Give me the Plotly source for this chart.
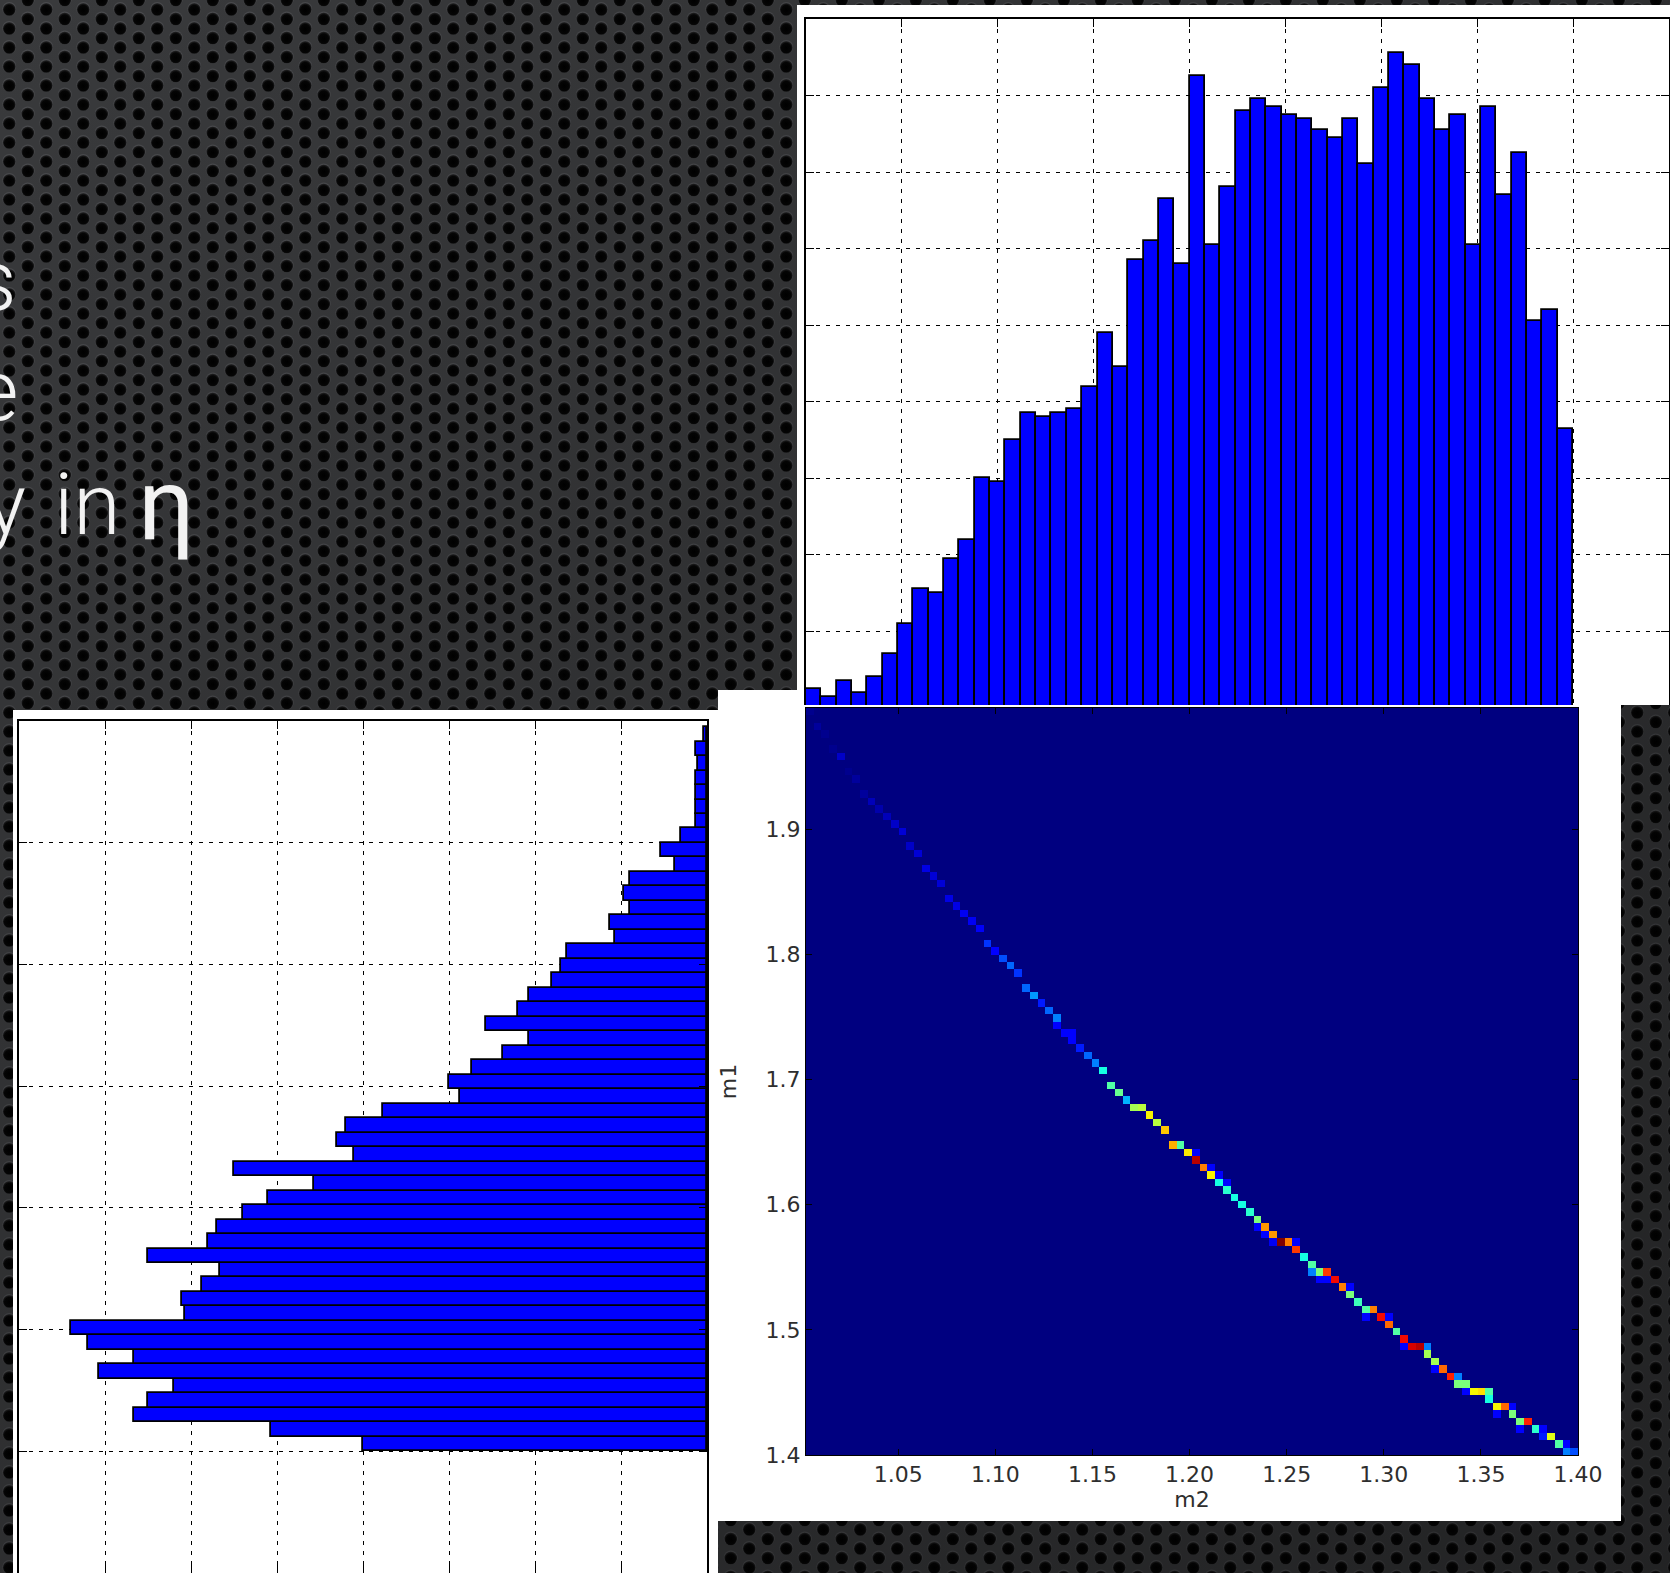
import base64
import numpy as np
import plotly.graph_objects as go

W, H = 1670, 1573  # page size in px


def px(x):
    return x / W


def py(y):
    return 1 - y / H


# ---------------- data ----------------
# m2 histogram, 50 bins between 1.00 and 1.40
m2_lo, m2_hi, m2_nbins = 1.0, 1.4, 50
m2_counts = [5, 3, 7, 4, 8, 14, 22, 31, 30, 39,
             44, 60, 59, 70, 77, 76, 77, 78, 84, 98,
             89, 117, 122, 133, 116, 165, 121, 136, 156, 159,
             157, 155, 154, 151, 149, 154, 142, 162, 171, 168,
             159, 151, 155, 121, 157, 134, 145, 101, 104, 73]

# m1 histogram, 50 bins between 1.400 and 1.995 (drawn horizontally)
m1_lo, m1_hi, m1_nbins = 1.4, 1.995, 50
m1_counts = [120, 152, 200, 195, 186, 212, 200, 216, 222, 182,
             183, 176, 170, 195, 174, 171, 162, 153, 137, 165,
             123, 129, 126, 113, 86, 90, 82, 71, 62, 77,
             66, 62, 54, 51, 49, 32, 34, 27, 29, 27,
             11, 16, 9, 4, 4, 4, 4, 3, 4, 1]

# 2D histogram m1 vs m2 (100 x 100 bins): occupied m1 row for each m2 column
ridge_row = [99, 97, 96, 94, 93, 91, 90, 88, 87, 86,
             85, 84, 83, 81, 80, 78, 77, 76, 74, 73,
             72, 71, 70, 68, 67, 66, 65, 64, 62, 61,
             60, 59, 58, 56, 55, 54, 53, 52, 51, 49,
             48, 47, 46, 46, 45, 44, 43, 41, 41, 40,
             39, 38, 37, 36, 35, 34, 33, 32, 31, 30,
             29, 28, 28, 27, 26, 25, 24, 24, 23, 22,
             21, 20, 19, 19, 18, 17, 16, 15, 14, 14,
             13, 12, 11, 10, 9, 9, 8, 8, 7, 6,
             6, 5, 4, 4, 3, 2, 2, 1, 0, 0]
ridge_count = [1, 2, 1, 1, 5, 1, 2, 2, 4, 3,
               4, 5, 6, 5, 6, 7, 6, 6, 7, 7,
               8, 8, 9, 14, 10, 16, 18, 14, 18, 22,
               12, 18, 20, 10, 10, 12, 18, 20, 30, 36,
               38, 24, 44, 46, 52, 46, 56, 58, 36, 53,
               76, 62, 52, 30, 32, 30, 30, 32, 40, 60,
               60, 80, 62, 68, 30, 36, 40, 68, 72, 62,
               40, 34, 36, 62, 72, 64, 36, 72, 74, 76,
               44, 44, 64, 70, 40, 40, 52, 54, 30, 52,
               64, 40, 40, 70, 32, 12, 50, 36, 20, 16]
# extra cells next to the ridge: (m2 column, row offset, count)
side_cells = [(32, -1, 10), (34, 1, 10), (50, 1, 10), (52, 1, 10), (53, 1, 10),
              (54, 1, 10), (58, -1, 10), (59, -1, 10), (60, -1, 8), (63, 1, 10),
              (65, -1, 20), (66, -1, 10), (67, -1, 10), (70, 1, 10), (72, -1, 10),
              (75, 1, 10), (77, -1, 10), (80, 1, 20), (81, -1, 10), (84, 1, 20),
              (85, -1, 10), (88, 1, 36), (89, -1, 10), (91, 1, 10), (92, -1, 10),
              (95, 1, 10), (98, 1, 10)]
h2_x_lo, h2_x_hi = 1.0025, 1.40
h2_y_lo, h2_y_hi = 1.40, 1.997
h2_n = 100

heat_xticks = [1.05, 1.10, 1.15, 1.20, 1.25, 1.30, 1.35, 1.40]
heat_yticks = [1.4, 1.5, 1.6, 1.7, 1.8, 1.9]

# ---------------- derived arrays ----------------
m2_w = (m2_hi - m2_lo) / m2_nbins
m2_centers = [m2_lo + (k + 0.5) * m2_w for k in range(m2_nbins)]
m1_w = (m1_hi - m1_lo) / m1_nbins
m1_centers = [m1_lo + (k + 0.5) * m1_w for k in range(m1_nbins)]

z = np.zeros((h2_n, h2_n))
for i, (j, c) in enumerate(zip(ridge_row, ridge_count)):
    z[j, i] = c
for i, dj, c in side_cells:
    z[ridge_row[i] + dj, i] = c
x_edges = np.linspace(h2_x_lo, h2_x_hi, h2_n + 1)
y_edges = np.linspace(h2_y_lo, h2_y_hi, h2_n + 1)


# matplotlib "jet" colour map
def jet_rgb(t):
    r = np.interp(t, [0, 0.35, 0.66, 0.89, 1], [0, 0, 1, 1, 0.5])
    g = np.interp(t, [0, 0.125, 0.375, 0.64, 0.91, 1], [0, 0, 1, 1, 0, 0])
    b = np.interp(t, [0, 0.11, 0.34, 0.65, 1], [0.5, 1, 1, 0, 0])
    return f"rgb({int(round(r * 255))},{int(round(g * 255))},{int(round(b * 255))})"


jet = [[float(s), jet_rgb(s)] for s in np.linspace(0, 1, 41)]

# ---------------- perforated-metal backdrop ----------------
tile_w, tile_h = 37, 19
svg = f"""<svg xmlns='http://www.w3.org/2000/svg' width='{W}' height='{H}'>
<defs>
<radialGradient id='hole' cx='0.5' cy='0.55' r='0.5'>
<stop offset='0' stop-color='#000'/><stop offset='0.75' stop-color='#050505'/>
<stop offset='1' stop-color='#1c1c1d'/></radialGradient>
<pattern id='p' width='{tile_w}' height='{tile_h}' patternUnits='userSpaceOnUse'>
<rect width='{tile_w}' height='{tile_h}' fill='#393a3c'/>
<circle cx='9.25' cy='8.9' r='6.9' fill='#4a4b4e'/>
<circle cx='27.75' cy='-0.6' r='6.9' fill='#4a4b4e'/>
<circle cx='27.75' cy='18.4' r='6.9' fill='#4a4b4e'/>
<circle cx='9.25' cy='9.5' r='6.3' fill='url(#hole)'/>
<circle cx='27.75' cy='0' r='6.3' fill='url(#hole)'/>
<circle cx='27.75' cy='19' r='6.3' fill='url(#hole)'/>
</pattern>
<linearGradient id='shade' x1='0' y1='0' x2='1' y2='1'>
<stop offset='0' stop-color='#000' stop-opacity='0'/>
<stop offset='1' stop-color='#000' stop-opacity='0.4'/></linearGradient>
</defs>
<rect width='{W}' height='{H}' fill='url(#p)'/>
<rect width='{W}' height='{H}' fill='url(#shade)'/>
</svg>"""
bg_uri = "data:image/svg+xml;base64," + base64.b64encode(svg.encode()).decode()

# ---------------- figure ----------------
fig = go.Figure()

bar_style = dict(color="#0000ff", line=dict(color="black", width=1.8))

fig.add_trace(go.Bar(x=m2_centers, y=m2_counts, width=m2_w, marker=bar_style,
                     xaxis="x", yaxis="y", hoverinfo="skip", showlegend=False))
fig.add_trace(go.Bar(y=m1_centers, x=m1_counts, width=m1_w, orientation="h",
                     marker=bar_style, xaxis="x2", yaxis="y2",
                     hoverinfo="skip", showlegend=False))
fig.add_trace(go.Heatmap(z=z, x=x_edges, y=y_edges, colorscale=jet, zmin=0, zmax=80,
                         zsmooth=False, showscale=False, hoverinfo="skip",
                         xaxis="x3", yaxis="y3"))

hist_axis = dict(showline=True, linecolor="black", linewidth=1.6,
                 ticks="inside", ticklen=8, tickwidth=1.2, tickcolor="black",
                 showticklabels=False, showgrid=True, gridcolor="black",
                 gridwidth=1, griddash="4px,6px", zeroline=False,
                 layer="above traces", automargin=False, fixedrange=True)

label_font = dict(family="DejaVu Sans", size=22, color="#2e2e2e")
heat_axis = dict(showline=True, linecolor="black", linewidth=1, mirror="ticks",
                 ticks="inside", ticklen=6, tickcolor="black", showgrid=False,
                 zeroline=False, tickfont=label_font, automargin=False,
                 fixedrange=True)

fig.update_layout(
    width=W, height=H,
    margin=dict(l=0, r=0, t=0, b=0),
    paper_bgcolor="#2a2a2b",
    plot_bgcolor="white",
    bargap=0,
    showlegend=False,
    xaxis=dict(hist_axis, domain=[px(806), px(1669)], range=[1.0, 1.45],
               tick0=1.0, dtick=0.05, side="top", mirror=False, anchor="y"),
    yaxis=dict(hist_axis, domain=[py(705), py(19)], range=[0.8, 180],
               tick0=0, dtick=20, mirror="ticks", anchor="x"),
    xaxis2=dict(hist_axis, domain=[px(19), px(707)], range=[240, 0],
                tick0=0, dtick=30, mirror="ticks", anchor="y2"),
    yaxis2=dict(hist_axis, domain=[0, py(721)], range=[1.3, 2.0],
                tick0=1.3, dtick=0.1, mirror="ticks", anchor="x2"),
    xaxis3=dict(heat_axis, domain=[px(806), px(1578)], range=[h2_x_lo, h2_x_hi],
                tickvals=heat_xticks, tickformat=".2f", anchor="y3",
                title=dict(text="m2", font=label_font, standoff=4)),
    yaxis3=dict(heat_axis, domain=[py(1455), py(708)], range=[h2_y_lo, h2_y_hi],
                tickvals=heat_yticks, tickformat=".1f", anchor="x3",
                title=dict(text="m1", font=label_font, standoff=22)),
    images=[dict(source=bg_uri, xref="paper", yref="paper", x=0, y=1,
                 sizex=1, sizey=1, sizing="stretch", layer="below")],
)

# white figure panels behind each plot
panels = [(718, 690, 1621, 1521), (797, 5, 1670, 705), (13, 710, 718, 1573)]
for x0, y0, x1, y1 in panels:
    fig.add_shape(type="rect", xref="paper", yref="paper",
                  x0=px(x0), x1=px(x1), y0=py(y1), y1=py(y0),
                  fillcolor="white", line=dict(width=0), layer="below")

# slide text running in from the left edge
text_font = dict(family="Roboto, 'Open Sans', sans-serif", size=86,
                 color="#f2f2f2", weight=300)
for txt, x, y, anchor in [("s", 19, 280, "right"), ("e", 20, 390, "right"),
                          ("y", 28, 505, "right"), ("in", 52, 505, "left")]:
    fig.add_annotation(text=txt, x=px(x), y=py(y), xref="paper", yref="paper",
                       xanchor=anchor, yanchor="middle", showarrow=False,
                       font=text_font)
fig.add_annotation(text="η", x=px(136), y=py(505), xref="paper", yref="paper",
                   xanchor="left", yanchor="middle", showarrow=False,
                   font=dict(text_font, size=100, weight=400))

fig.write_html("out.html", config={"displayModeBar": False})
